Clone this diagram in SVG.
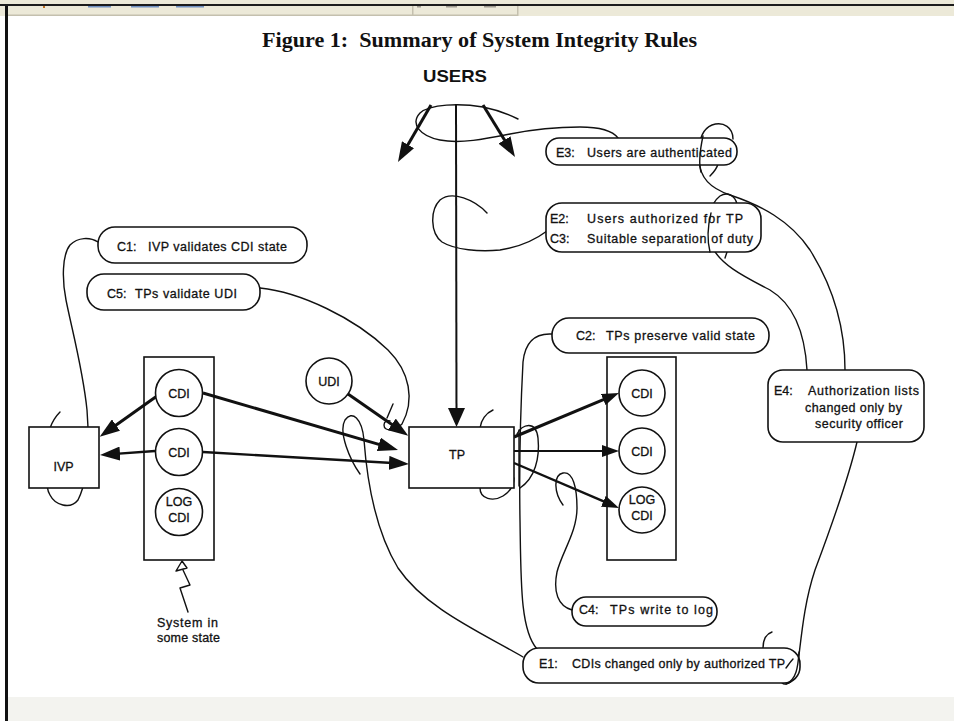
<svg xmlns="http://www.w3.org/2000/svg" width="954" height="721" viewBox="0 0 954 721">
<style>
.lbl{font-family:"Liberation Sans",Arial,sans-serif;font-size:12.5px;fill:#111;stroke:#111;stroke-width:0.3}
.box{fill:#fff;stroke:#111;stroke-width:1.6}
.curve{fill:none;stroke:#111;stroke-width:1.4;stroke-linecap:round;stroke-linejoin:round}
.thick{fill:none;stroke:#111;stroke-width:3}
.med{fill:none;stroke:#111;stroke-width:2.4}
.thin{fill:none;stroke:#111;stroke-width:2}
</style>
<defs>
<marker id="ahBig" markerUnits="userSpaceOnUse" viewBox="0 0 20 14" markerWidth="20" markerHeight="14" refX="8" refY="7" orient="auto"><path d="M0,0 L20,7 L0,14 z" fill="#111"/></marker>
<marker id="ahV" markerUnits="userSpaceOnUse" viewBox="0 0 19 17" markerWidth="19" markerHeight="17" refX="7" refY="8.5" orient="auto"><path d="M0,0 L19,8.5 L0,17 z" fill="#111"/></marker>
<marker id="ahSm" markerUnits="userSpaceOnUse" viewBox="0 0 17 12" markerWidth="17" markerHeight="12" refX="6" refY="6" orient="auto"><path d="M0,0 L17,6 L0,12 z" fill="#111"/></marker>
</defs>

<!-- window chrome -->
<rect x="0" y="0" width="954" height="721" fill="#fff"/>
<rect x="0" y="0" width="954" height="16" fill="#ECE9D8"/>
<rect x="0" y="4" width="954" height="2" fill="#1c1c1c"/>
<rect x="8" y="14.5" width="509" height="1.5" fill="#c4c0ae"/>
<rect x="412" y="6" width="1.5" height="10" fill="#c4c0ae"/>
<rect x="517" y="6" width="1.5" height="10" fill="#c4c0ae"/>
<rect x="43" y="6" width="2" height="2" fill="#c07020"/>
<rect x="88" y="6" width="23" height="1.5" fill="#7090c0"/>
<rect x="131" y="6" width="28" height="1.5" fill="#7090c0"/>
<rect x="176" y="6" width="28" height="1.5" fill="#7090c0"/>
<rect x="417" y="6" width="4" height="1.5" fill="#a09c90"/>
<rect x="446" y="6" width="11" height="1.5" fill="#a09c90"/>
<rect x="484" y="6" width="12" height="1.5" fill="#a09c90"/>
<rect x="8" y="697" width="946" height="24" fill="#f3f3ef"/>
<rect x="5" y="6" width="3" height="715" fill="#111"/>

<!-- title -->
<g id="title">
<text x="479.5" y="47" text-anchor="middle" textLength="435" lengthAdjust="spacingAndGlyphs" xml:space="preserve" font-family="'Liberation Serif','Times New Roman',serif" font-size="20" font-weight="bold" fill="#111">Figure 1:  Summary of System Integrity Rules</text>
</g>

<g id="users">
<text x="455" y="82" text-anchor="middle" textLength="64" lengthAdjust="spacingAndGlyphs" font-family="'Liberation Sans',Arial,sans-serif" font-size="17" font-weight="bold" fill="#111">USERS</text>
</g>

<!-- connectors -->
<g id="connectors">
<line class="thick" x1="431" y1="105" x2="404" y2="151.6" marker-end="url(#ahBig)"/>
<line class="thick" x1="483" y1="105" x2="508.7" y2="146.8" marker-end="url(#ahBig)"/>
<line class="thin" x1="456" y1="104" x2="456.5" y2="415" marker-end="url(#ahV)"/>
<line class="thick" x1="348" y1="394" x2="398.4" y2="428.9" marker-end="url(#ahBig)"/>
<line class="thick" x1="157" y1="396" x2="109.5" y2="429.7" marker-end="url(#ahBig)"/>
<line class="med" x1="155" y1="451" x2="112" y2="454.1" marker-end="url(#ahBig)"/>
<line class="thick" x1="203" y1="393" x2="386.5" y2="446.6" marker-end="url(#ahBig)"/>
<line class="med" x1="203" y1="452" x2="397" y2="463.3" marker-end="url(#ahBig)"/>
<line class="thick" x1="514" y1="437" x2="608.8" y2="397.3" marker-end="url(#ahSm)"/>
<line class="thin" x1="514" y1="451" x2="608" y2="451" marker-end="url(#ahSm)"/>
<line class="med" x1="514" y1="463" x2="608.9" y2="503.7" marker-end="url(#ahSm)"/>

<path class="curve" d="M618,138 C612,130 600,127 580,127 C555,127 530,130 510,134 C485,139 460,144 440,140 C420,136 410,124 420,113 C430,104 460,103 483,107 C498,110 510,115 518,119"/>
<path class="curve" d="M547,231 C535,240 520,247 500,250 C480,252 455,250 442,242 C430,233 430,210 440,200 C452,190 475,200 487,213"/>
<path class="curve" d="M98,242 C90,237 78,237 70,245 C62,255 62,280 66,300 C72,330 83,370 87,410 C90,450 88,480 78,500 C70,510 55,505 50,495 C47,490 47,485 48,483"/>
<path class="curve" d="M50,428 C53,420 57,415 60,412"/>
<path class="curve" d="M260,288 C300,292 355,318 388,350 C410,372 415,400 402,424 C395,431 384,432 384,425 C384,421 388,420 390,421"/>
<path class="curve" d="M387,418 L393,404"/>
<path class="curve" d="M360,474 C350,460 338,432 345,420 C352,410 362,418 364,440 C367,480 375,530 398,568 C425,608 480,632 523,657"/>
<path class="curve" d="M493,410 C486,413 481,420 480,428"/>
<path class="curve" d="M480,488 C480,499 493,502 503,496 C511,491 514,484 514,478"/>
<path class="curve" d="M517,434 C522,424 536,420 538,438 C540,458 535,478 520,488"/>
<path class="curve" d="M552,334 C535,333 525,342 523,362 C521,400 519,460 520,520 C521,580 520,630 537,649"/>
<path class="curve" d="M563,505 C554,493 553,475 563,473 C573,471 577,488 577,508 C577,532 562,552 557,572 C553,592 558,606 572,610"/>
<path class="curve" d="M845,370 C845,330 835,290 810,250 C790,220 760,205 730,195 C710,188 700,178 699,160 C698,145 700,130 712,125 C724,121 733,128 733,139"/>
<path class="curve" d="M710,176 C714,172 717,168 718,164"/>
<path class="curve" d="M807,370 C805,335 795,305 770,290 C745,277 720,265 711,245 C705,228 708,205 720,196 C728,191 735,196 737,204"/>
<path class="curve" d="M727,252 L725,258"/>
<path class="curve" d="M857,442 C848,480 830,530 815,570 C805,600 802,630 799,655 C797,672 795,682 786,684 C779,685 780,676 786,668 C789,664 791,661 793,659"/>
<path class="curve" d="M763,648 C763,640 766,634 772,632"/>
<path class="curve" d="M188,612 L180,588 L190,585 L183,570"/>
<polygon points="176,571 182,561 187,568" fill="#fff" stroke="#111" stroke-width="1.4" stroke-linejoin="round"/>
</g>

<!-- nodes -->
<g id="ivp">
<rect class="box" x="29" y="427" width="70" height="61"/>
<text class="lbl" x="63.5" y="471" text-anchor="middle" font-size="13">IVP</text>
</g>
<g id="state-left">
<rect class="box" x="144" y="357" width="70" height="203" style="fill:none"/>
<circle class="box" cx="179" cy="393" r="23.5"/>
<text class="lbl" x="179" y="398" text-anchor="middle">CDI</text>
<circle class="box" cx="179" cy="452" r="23.5"/>
<text class="lbl" x="179" y="457" text-anchor="middle">CDI</text>
<circle class="box" cx="179" cy="512" r="23.5"/>
<text class="lbl" x="179" y="506" text-anchor="middle" font-size="11.5">LOG</text>
<text class="lbl" x="179" y="522" text-anchor="middle" font-size="11.5">CDI</text>
</g>
<g id="udi">
<circle class="box" cx="329" cy="381" r="23"/>
<text class="lbl" x="329" y="386" text-anchor="middle">UDI</text>
</g>
<g id="tp">
<rect class="box" x="409" y="427" width="105" height="61"/>
<text class="lbl" x="457" y="459" text-anchor="middle" font-size="17">TP</text>
</g>
<g id="state-right">
<rect class="box" x="607" y="357" width="69" height="203" style="fill:none"/>
<circle class="box" cx="642" cy="393" r="23"/>
<text class="lbl" x="642" y="398" text-anchor="middle">CDI</text>
<circle class="box" cx="642" cy="451" r="23"/>
<text class="lbl" x="642" y="456" text-anchor="middle">CDI</text>
<circle class="box" cx="642" cy="510" r="23"/>
<text class="lbl" x="642" y="504" text-anchor="middle" font-size="11.5">LOG</text>
<text class="lbl" x="642" y="520" text-anchor="middle" font-size="11.5">CDI</text>
</g>
<g id="system-label">
<text class="lbl" x="157" y="627" textLength="61" lengthAdjust="spacing">System in</text>
<text class="lbl" x="157" y="642" textLength="63" lengthAdjust="spacing">some state</text>
</g>

<g id="rule-C1">
<rect class="box" x="98" y="227" width="209" height="36" rx="17"/>
<text class="lbl" x="117" y="251">C1:</text>
<text class="lbl" x="148" y="251" textLength="139" lengthAdjust="spacing">IVP validates CDI state</text>
</g>
<g id="rule-C5">
<rect class="box" x="87" y="274" width="173" height="36" rx="17"/>
<text class="lbl" x="107" y="298">C5:</text>
<text class="lbl" x="135" y="298" textLength="102" lengthAdjust="spacing">TPs validate UDI</text>
</g>
<g id="rule-E3">
<rect class="box" x="546" y="138" width="191" height="27" rx="13"/>
<text class="lbl" x="556" y="157">E3:</text>
<text class="lbl" x="587" y="157" textLength="145" lengthAdjust="spacing">Users are authenticated</text>
</g>
<g id="rule-E2-C3">
<rect class="box" x="546" y="203" width="215" height="49" rx="16"/>
<text class="lbl" x="550" y="223">E2:</text>
<text class="lbl" x="587" y="223" textLength="156" lengthAdjust="spacing">Users authorized for TP</text>
<text class="lbl" x="550" y="243">C3:</text>
<text class="lbl" x="587" y="243" textLength="166" lengthAdjust="spacing">Suitable separation of duty</text>
</g>
<g id="rule-C2">
<rect class="box" x="552" y="318" width="217" height="35" rx="17"/>
<text class="lbl" x="576" y="340">C2:</text>
<text class="lbl" x="606" y="340" textLength="149" lengthAdjust="spacing">TPs preserve valid state</text>
</g>
<g id="rule-E4">
<rect class="box" x="768" y="370" width="156" height="72" rx="15"/>
<text class="lbl" x="774" y="395">E4:</text>
<text class="lbl" x="808" y="395" textLength="111" lengthAdjust="spacing">Authorization lists</text>
<text class="lbl" x="805" y="412" textLength="97" lengthAdjust="spacing">changed only by</text>
<text class="lbl" x="815" y="428" textLength="88" lengthAdjust="spacing">security officer</text>
</g>
<g id="rule-C4">
<rect class="box" x="572" y="597" width="145" height="29" rx="14"/>
<text class="lbl" x="579" y="614">C4:</text>
<text class="lbl" x="610" y="614" textLength="103" lengthAdjust="spacing">TPs write to log</text>
</g>
<g id="rule-E1">
<rect class="box" x="523" y="648" width="277" height="35" rx="16"/>
<text class="lbl" x="539" y="668">E1:</text>
<text class="lbl" x="572" y="668" textLength="213" lengthAdjust="spacing">CDIs changed only by authorized TP</text>
</g>

<g id="overlays">
<path class="curve" d="M703,136 C700,150 699,165 701,172"/>
<path class="curve" d="M711,213 C708,225 707,240 710,252"/>
<path class="curve" d="M519,430 L519,486"/>
<path class="curve" d="M799,652 C798,668 796,680 786,684"/>
<path class="curve" d="M786,668 C789,664 791,661 793,659"/>
</g>
</svg>
